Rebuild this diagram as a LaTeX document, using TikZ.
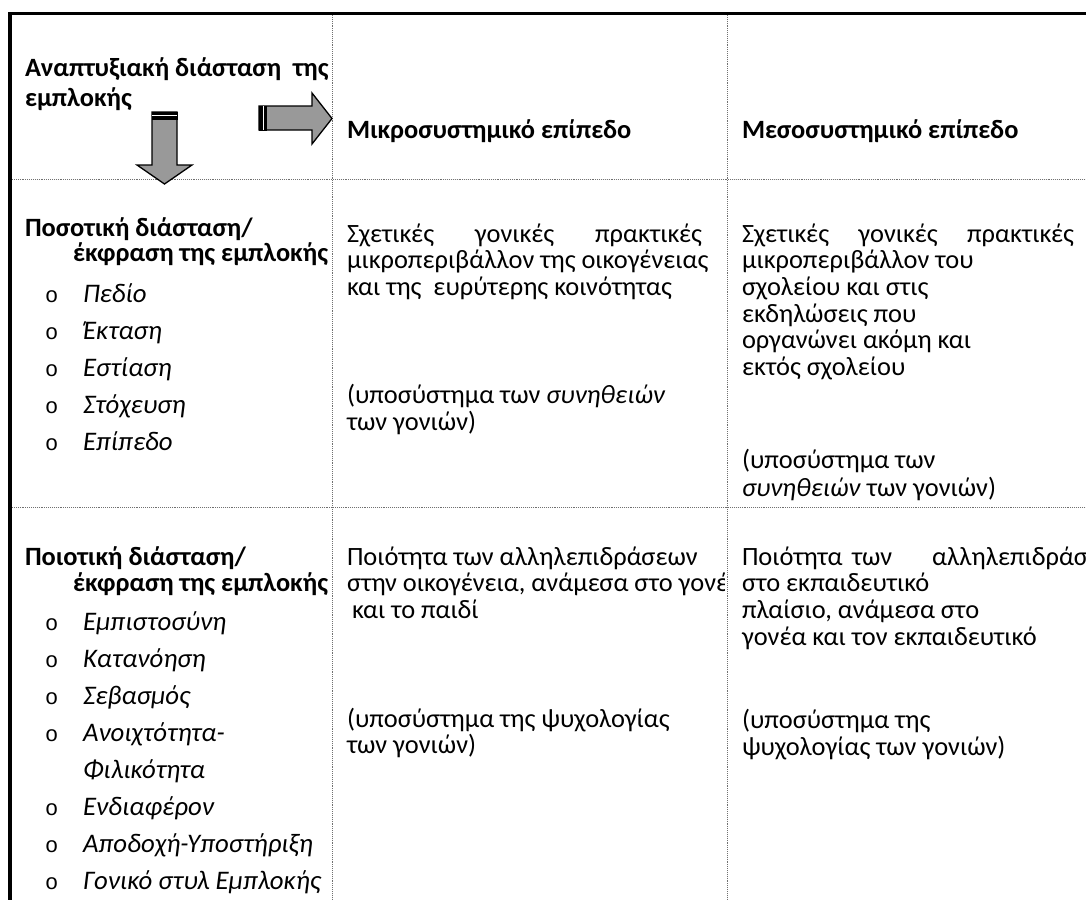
\documentclass[tikz,border=0pt]{standalone}
\usepackage{fontspec}
\setmainfont{Carlito}
\newfontfamily\bulletfont{Liberation Mono}
\definecolor{arrowgray}{HTML}{999999}
\definecolor{rulegray}{HTML}{707070}

\begin{document}
\begin{tikzpicture}[x=1pt,y=-1pt,
  body/.style={anchor=base west, inner sep=0pt, outer sep=0pt,
               font=\fontsize{26.4}{26.8}\selectfont},
  head/.style={body, font=\fontsize{26.4}{26.8}\selectfont\bfseries},
  item/.style={body, font=\fontsize{26.8}{26.8}\selectfont\itshape},
  bul/.style={anchor=base west, inner sep=0pt, outer sep=0pt,
              font=\fontsize{22}{24}\bulletfont},
  cellrule/.style={draw=rulegray, densely dotted, line width=0.9pt},
  frame/.style={draw=black, line width=3.6pt},
  arrowbody/.style={draw=black, line width=1.3pt, fill=arrowgray, line join=miter}
]
\useasboundingbox (0,0) rectangle (1086,900);
\clip (0,0) rectangle (1086,900);

% table rules
\draw[cellrule] (12,179) -- (1086,179);
\draw[cellrule] (12,507) -- (1086,507);
\draw[cellrule] (332,15) -- (332,900);
\draw[cellrule] (727,15) -- (727,900);

% thick outer frame (top and left)
\draw[frame] (8,13.6) -- (1086,13.6);
\draw[frame] (10,12) -- (10,900);

% downward block arrow
\draw[arrowbody] (152,112) -- (177,112) -- (177,165) -- (192,165) -- (164.5,184)
  -- (137,165) -- (152,165) -- cycle;
\fill[black] (151.5,112) rectangle (177.5,120);
\draw[white, line width=0.9pt] (152,115.8) -- (177,115.8);

% rightward block arrow
\draw[arrowbody] (259,106) -- (312,106) -- (312,93) -- (332,118.5) -- (312,144)
  -- (312,130) -- (259,130) -- cycle;
\fill[black] (259,105.5) rectangle (267,130.5);
\draw[white, line width=0.9pt] (263.2,106) -- (263.2,130);

% header row
\node[head] (hA) at (25,76) {Αναπτυξιακή διάσταση\ \ της};
\node[head] (hB) at (25,106) {εμπλοκής};
\node[head] (hMicro) at (347,138) {Μικροσυστημικό επίπεδο};
\node[head] (hMeso) at (742,138) {Μεσοσυστημικό επίπεδο};

% quantitative dimension
\node[head] (qnA) at (25,236) {Ποσοτική διάσταση/};
\node[head] (qnB) at (73,261) {έκφραση της εμπλοκής};
\foreach \txt [count=\i] in {Πεδίο, Έκταση, Εστίαση, Στόχευση, Επίπεδο} {
  \node[bul] (qnb\i) at (45,{302+37*(\i-1)}) {o};
  \node[item] (qni\i) at (83,{302+37*(\i-1)}) {\txt};
}

\node[body] (m1a) at (347,242) {\makebox[355pt][s]{Σχετικές\hfill γονικές\hfill πρακτικές}};
\node[body] (m1b) at (347,268) {μικροπεριβάλλον της οικογένειας};
\node[body] (m1c) at (347,295) {και της\ \ ευρύτερης κοινότητας};
\node[body] (m1d) at (347,403) {(υποσύστημα των \textit{συνηθειών}};
\node[body] (m1e) at (347,430) {των γονιών)};

\node[body] (s1a) at (742,242) {\makebox[332pt][s]{Σχετικές\hfill γονικές\hfill πρακτικές}};
\node[body] (s1b) at (742,268) {μικροπεριβάλλον του};
\node[body] (s1c) at (742,295) {σχολείου και στις};
\node[body] (s1d) at (742,322) {εκδηλώσεις που};
\node[body] (s1e) at (742,348) {οργανώνει ακόμη και};
\node[body] (s1f) at (742,375) {εκτός σχολείου};
\node[body] (s1g) at (742,468) {(υποσύστημα των};
\node[body] (s1h) at (742,496) {\textit{συνηθειών} των γονιών)};

% qualitative dimension
\node[head] (qlA) at (25,565) {Ποιοτική διάσταση/};
\node[head] (qlB) at (73,591) {έκφραση της εμπλοκής};
\foreach \txt/\mk [count=\i] in {Εμπιστοσύνη/o, Κατανόηση/o, Σεβασμός/o,
    Ανοιχτότητα-/o, Φιλικότητα/{}, Ενδιαφέρον/o, Αποδοχή-Υποστήριξη/o,
    Γονικό στυλ Εμπλοκής/o} {
  \node[bul] (qlb\i) at (45,{630+37*(\i-1)}) {\mk};
  \node[item] (qli\i) at (83,{630+37*(\i-1)}) {\txt};
}

\node[body] (m2a) at (347,565) {Ποιότητα των αλληλεπιδράσεων};
\begin{scope}
  \clip (332,507) rectangle (724,900);
  \node[body] (m2b) at (347,591) {στην οικογένεια, ανάμεσα στο γονέα};
\end{scope}
\node[body] (m2c) at (352,618) {και το παιδί};
\node[body] (m2d) at (347,727) {(υποσύστημα της ψυχολογίας};
\node[body] (m2e) at (347,753) {των γονιών)};

% justified first line runs past the right edge of the table
\node[body] (s2a1) at (742,565) {Ποιότητα};
\node[body] (s2a2) at (852,565) {των};
\node[body] (s2a3) at (932,565) {αλληλεπιδράσεων};
\node[body] (s2b) at (742,591) {στο εκπαιδευτικό};
\node[body] (s2c) at (742,618) {πλαίσιο, ανάμεσα στο};
\node[body] (s2d) at (742,645) {γονέα και τον εκπαιδευτικό};
\node[body] (s2e) at (742,728) {(υποσύστημα της};
\node[body] (s2f) at (742,755) {ψυχολογίας των γονιών)};
\end{tikzpicture}
\end{document}
